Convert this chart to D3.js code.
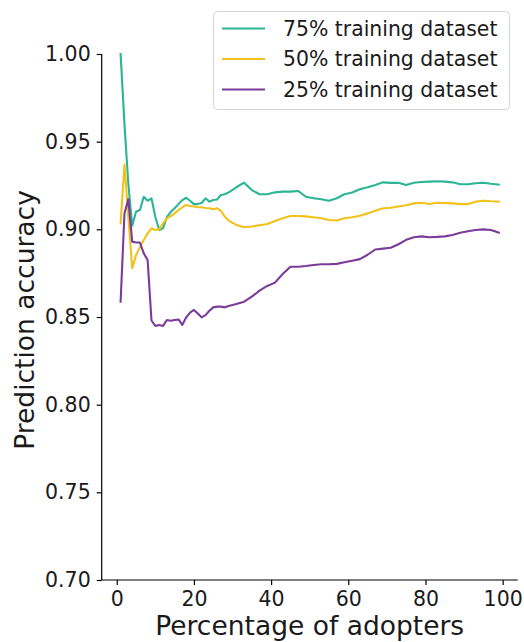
<!DOCTYPE html>
<html>
<head>
<meta charset="utf-8">
<script src="https://cdn.jsdelivr.net/npm/d3@7/dist/d3.min.js"></script>
<style>
  html, body { margin: 0; padding: 0; background: #fff; }
  svg { display: block; font-family: "DejaVu Sans", sans-serif; }
</style>
</head>
<body>
<svg id="chart" width="524" height="642"></svg>
<script>
// ---- data ----
const adopters = [1,2,3,4,5,6,7,8,9,10,11,12,13,14,15,16,17,18,19,20,21,22,23,24,25,26,27,28,29,
  31,33,35,37,39,41,43,45,47,49,51,53,55,57,59,61,63,65,67,69,71,73,75,77,79,81,83,85,87,89,91,93,95,97,99];

const acc75 = [1.000,0.960,0.926,0.902,0.910,0.911,0.9186,0.9163,0.9177,0.907,0.8996,0.9006,0.907,0.910,0.912,0.9144,0.9167,0.918,0.9163,0.9144,0.9144,0.9150,0.9177,0.9158,0.9167,0.9170,0.9196,0.9200,0.9211,
  0.924,0.9266,0.9224,0.920,0.920,0.9211,0.9215,0.9215,0.9219,0.9186,0.9177,0.9172,0.9163,0.9177,0.920,0.921,0.9229,0.924,0.9253,0.9268,0.9265,0.9266,0.9253,0.9266,0.927,0.9272,0.9274,0.9272,0.9268,0.9257,0.9257,0.9263,0.9266,0.926,0.9255];

const acc50 = [0.9034,0.937,0.907,0.8778,0.8853,0.8897,0.8939,0.8977,0.9006,0.8996,0.900,0.9034,0.9063,0.9076,0.9091,0.911,0.9126,0.9139,0.9133,0.913,0.9126,0.9126,0.9122,0.912,0.9114,0.912,0.9106,0.9072,0.905,
  0.9025,0.9012,0.9016,0.9023,0.903,0.9047,0.9063,0.9076,0.9076,0.9074,0.9069,0.9063,0.9053,0.905,0.9063,0.9069,0.9078,0.9091,0.9106,0.912,0.9123,0.913,0.9137,0.9148,0.9152,0.9144,0.9152,0.915,0.9148,0.9144,0.9144,0.9158,0.9163,0.916,0.9158];

const acc25 = [0.8587,0.909,0.9172,0.893,0.8925,0.8925,0.8863,0.8825,0.848,0.8449,0.8455,0.8449,0.8483,0.8479,0.8483,0.8486,0.8455,0.8498,0.8525,0.854,0.852,0.8498,0.8511,0.8536,0.8555,0.8559,0.8559,0.8555,0.8563,
  0.8574,0.8587,0.8616,0.865,0.8677,0.8696,0.8745,0.8787,0.8787,0.8791,0.8797,0.8801,0.8801,0.8803,0.8812,0.8821,0.883,0.8855,0.8885,0.889,0.8895,0.8915,0.894,0.8955,0.896,0.8955,0.8957,0.896,0.8968,0.8981,0.8989,0.8996,0.900,0.8996,0.8981];

const seriesNames = ["75% training dataset", "50% training dataset", "25% training dataset"];
const seriesColors = ["#2bb596", "#f1c21b", "#7b3b9b"];
const xTicks = [0, 20, 40, 60, 80, 100];
const yTicks = [0.70, 0.75, 0.80, 0.85, 0.90, 0.95, 1.00];
const xTitle = "Percentage of adopters";
const yTitle = "Prediction accuracy";

// ---- drawing ----
const svg = d3.select("#chart");
const x = d3.scaleLinear().domain([-3.9, 103.9]).range([101.7, 517.7]);
const y = d3.scaleLinear().domain([0.70, 1.00]).range([580, 54]);

const series = [acc75, acc50, acc25].map((vals, i) => ({
  name: seriesNames[i], color: seriesColors[i],
  points: adopters.map((a, j) => [a, vals[j]])
}));

const line = d3.line().x(d => x(d[0])).y(d => y(d[1]));

svg.selectAll("path.series").data(series).enter().append("path")
  .attr("class", "series")
  .attr("d", d => line(d.points))
  .attr("fill", "none")
  .attr("stroke", d => d.color)
  .attr("stroke-width", 2.1)
  .attr("stroke-linejoin", "round")
  .attr("stroke-linecap", "square");

// axes
const xAxis = svg.append("g").attr("transform", "translate(0,580)")
  .call(d3.axisBottom(x).tickValues(xTicks).tickFormat(d3.format("d")).tickSize(5).tickPadding(6));
const yAxis = svg.append("g").attr("transform", "translate(101.7,0)")
  .call(d3.axisLeft(y).tickValues(yTicks).tickFormat(d3.format(".2f")).tickSize(5).tickPadding(6));

[xAxis, yAxis].forEach(g => {
  g.select(".domain").attr("stroke", "#000").attr("stroke-width", 1.2);
  g.selectAll(".tick line").attr("stroke", "#000").attr("stroke-width", 1.2);
  g.selectAll(".tick text").attr("fill", "#1a1a1a").style("font-size", "20.5px").style("font-family", "DejaVu Sans, sans-serif");
});
xAxis.select(".domain").attr("d", `M${x.range()[0]},0H${x.range()[1]}`);
yAxis.select(".domain").attr("d", `M0,${y.range()[0]}V${y.range()[1]}`);

svg.append("text")
  .attr("x", (x.range()[0] + x.range()[1]) / 2).attr("y", 635)
  .attr("text-anchor", "middle").attr("fill", "#1a1a1a")
  .style("font-size", "26.5px").text(xTitle);

svg.append("text")
  .attr("transform", `translate(34,${(y.range()[0] + y.range()[1]) / 2 + 3}) rotate(-90)`)
  .attr("text-anchor", "middle").attr("fill", "#1a1a1a")
  .style("font-size", "26.5px").text(yTitle);

// legend
const legend = svg.append("g");
legend.append("rect")
  .attr("x", 213.5).attr("y", 11.5).attr("width", 296).attr("height", 98)
  .attr("rx", 4).attr("fill", "#fff").attr("fill-opacity", 0.85)
  .attr("stroke", "#d5d5d5").attr("stroke-width", 1);
const rows = legend.selectAll("g.row").data(series).enter().append("g")
  .attr("transform", (d, i) => `translate(0,${28.5 + i * 30.5})`);
rows.append("line").attr("x1", 222).attr("x2", 265).attr("y1", 0).attr("y2", 0)
  .attr("stroke", d => d.color).attr("stroke-width", 2.1);
rows.append("text").attr("x", 283).attr("y", 7.4)
  .attr("fill", "#1a1a1a").style("font-size", "20.4px").text(d => d.name);
</script>
</body>
</html>
